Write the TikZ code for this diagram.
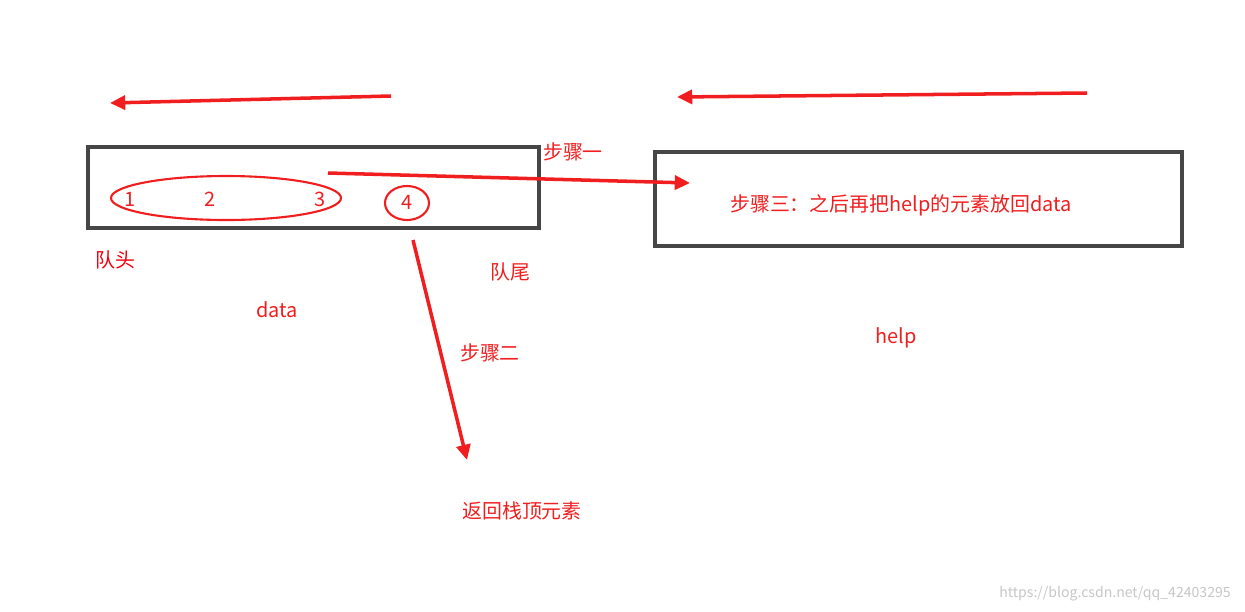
\documentclass[tikz,border=0pt]{standalone}
\usepackage{fontspec}
\setmainfont{Noto Sans CJK SC}
\usetikzlibrary{arrows.meta}
\definecolor{ink}{RGB}{240,30,30}
\definecolor{boxgray}{RGB}{70,70,70}
\tikzset{
  box/.style={draw=boxgray,line width=2.6pt},
  lbl/.style={text=ink,font=\fontsize{17}{20}\selectfont,inner sep=0pt},
  ring/.style={draw=ink,line width=1.8pt},
  move/.style={draw=ink,line width=3pt,-{Triangle[length=13pt,width=12pt]}}
}
\begin{document}
\begin{tikzpicture}[x=0.03cm,y=-0.03cm]
  \useasboundingbox (0,0) rectangle (1245,611);
  % boxes
  \draw[box] (88,147) rectangle (539,228);
  \draw[box] (655,152) rectangle (1182,246);
  % elements
  \draw[ring] (226,198) ellipse [x radius=115,y radius=22];
  \draw[ring] (407,203) ellipse [x radius=22,y radius=17];
  \node[lbl] (e1) at (130,199) {1};
  \node[lbl] (e2) at (210,199) {2};
  \node[lbl] (e3) at (320,199) {3};
  \node[lbl] (e4) at (407,202) {4};
  % labels
  \node[lbl,text=red!80!purple] (head) at (115,260) {队头};
  \node[lbl] (tail) at (510,272) {队尾};
  \node[lbl] (data) at (277,310) {data};
  \node[lbl] (help) at (896,338) {help};
  \node[lbl] (s1) at (573,152) {步骤一};
  \node[lbl] (s2) at (490,353) {步骤二};
  \node[lbl] (s3) at (901,205) {步骤三：之后再把help的元素放回data};
  \node[lbl] (ret) at (522,511) {返回栈顶元素};
  \node[text=gray!45,font=\fontsize{12}{14}\selectfont,inner sep=0pt] (mark) at (1115,594) {https://blog.csdn.net/qq\_42403295};
  % arrows
  \coordinate (a1) at (391,96);  \coordinate (b1) at (110,103);
  \coordinate (a2) at (1087,93); \coordinate (b2) at (677,97);
  \coordinate (a3) at (328,173); \coordinate (b3) at (690,183);
  \coordinate (a4) at (413,240); \coordinate (b4) at (467,460);
  \draw[move] (a1) -- (b1);
  \draw[move] (a2) -- (b2);
  \draw[move] (a3) -- (b3);
  \draw[move] (a4) -- (b4);
\end{tikzpicture}
\end{document}
